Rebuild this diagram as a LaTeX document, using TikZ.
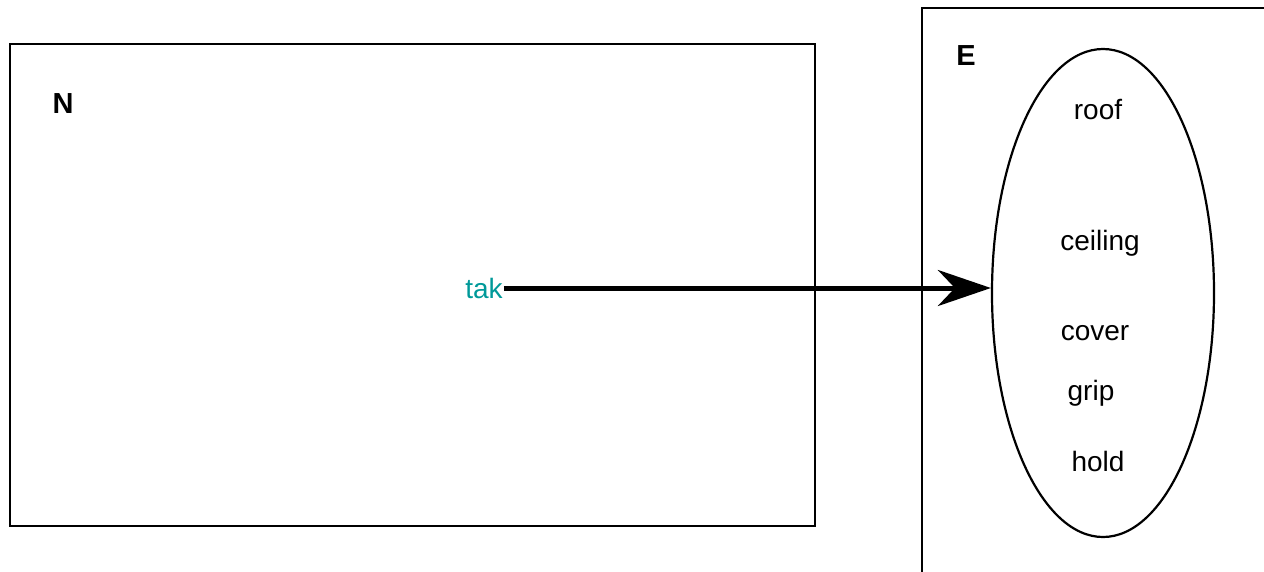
\documentclass[tikz,border=0pt]{standalone}
\usepackage{fontspec}
\setmainfont{Liberation Sans}
\usepackage{tikz}
\usetikzlibrary{arrows.meta, shapes.geometric, calc}
\definecolor{takteal}{RGB}{0,153,153}

\begin{document}
\begin{tikzpicture}[
            x=1pt, y=-1pt,
            font=\fontsize{28}{32}\selectfont,
            >=Stealth,
            box/.style={draw, line width=2.2pt, inner sep=0pt},
            setlabel/.style={font=\bfseries\fontsize{29}{33}\selectfont},
            every node/.style={align=center}
        ]

        % Page size of the reference
        \useasboundingbox (0,0) rectangle (1264,571);
        \clip (0,0) rectangle (1264,571);

        % --- Left box: N ---
        \node[box, anchor=north west, minimum width=805pt, minimum height=482pt] (nBox) at (9,43) {};
        \node[setlabel] (nLabel) at (63,104) {N};
        \node[text=takteal, inner sep=1pt] (tak) at (484,288) {tak};

        % --- Right box: E (runs past the page edge) ---
        \node[box, anchor=north west, minimum width=420pt, minimum height=620pt] (eBox) at (921,7) {};
        \node[setlabel] (eLabel) at (966,56) {E};

        % Set of words
        \node[draw, ellipse, line width=2.2pt, minimum width=222pt, minimum height=488pt] (eSet) at (1103,293) {};
        \node (roof)    at (1098,110) {roof};
        \node (ceiling) at (1100,243) {ceiling};
        \node (cover)   at (1095,333) {cover};
        \node (grip)    at (1091,393) {grip};
        \node (hold)    at (1098,461) {hold};

        % --- Mapping arrow ---
        \draw[-{Stealth[length=53pt, width=36pt, inset=17pt]}, line width=5pt] (tak.east) -- (tak.east -| eSet.west);

\end{tikzpicture}
\end{document}
